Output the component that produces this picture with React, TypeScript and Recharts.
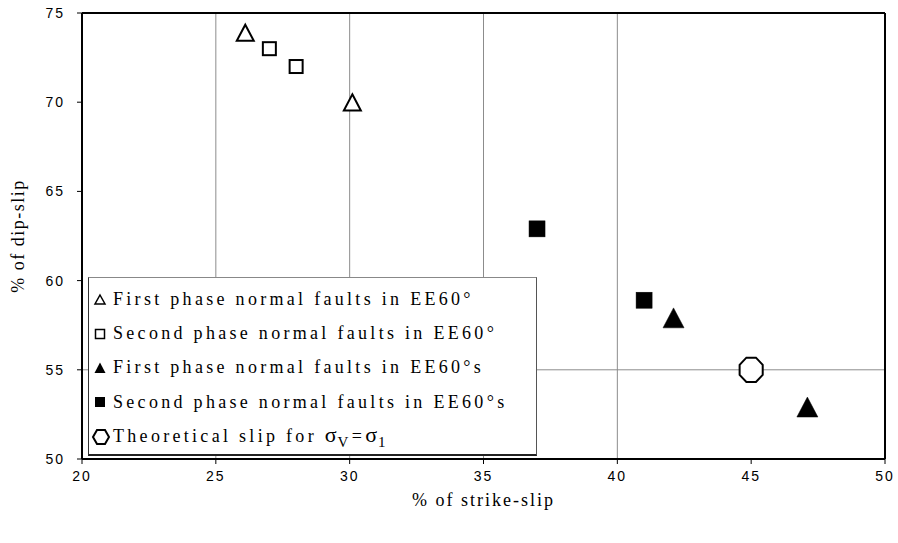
import {
  Legend,
  ReferenceLine,
  Scatter,
  ScatterChart,
  XAxis,
  YAxis,
} from 'recharts'

const firstPhase = [
  { x: 26.1, y: 73.8 },
  { x: 30.1, y: 69.9 },
]
const secondPhase = [
  { x: 27.0, y: 73.0 },
  { x: 28.0, y: 72.0 },
]
const firstPhaseS = [
  { x: 42.1, y: 57.8 },
  { x: 47.1, y: 52.8 },
]
const secondPhaseS = [
  { x: 37.0, y: 62.9 },
  { x: 41.0, y: 58.9 },
]
const theoretical = [{ x: 45, y: 55 }]

const xTicks = [20, 25, 30, 35, 40, 45, 50]
const yTicks = [50, 55, 60, 65, 70, 75]
const xGrid = [25, 30, 35, 40]
const yGrid = [55]

const SERIF = '"Liberation Serif", "Times New Roman", serif'
const SANS = '"Liberation Sans", Arial, sans-serif'

type Pt = { cx?: number; cy?: number }

function triangle(size: number, filled: boolean) {
  return ({ cx = 0, cy = 0 }: Pt) => {
    const h = size * 0.95
    const d = `M${cx},${cy - h * 0.6} L${cx + size / 2},${cy + h * 0.4} L${cx - size / 2},${cy + h * 0.4} Z`
    return (
      <path
        d={d}
        fill={filled ? '#000' : '#fff'}
        stroke="#000"
        strokeWidth={filled ? 0.5 : 2}
        strokeLinejoin="miter"
      />
    )
  }
}

function square(size: number, filled: boolean) {
  return ({ cx = 0, cy = 0 }: Pt) => (
    <rect
      x={cx - size / 2}
      y={cy - size / 2}
      width={size}
      height={size}
      fill={filled ? '#000' : '#fff'}
      stroke="#000"
      strokeWidth={filled ? 0.5 : 2}
    />
  )
}

function octagon(r: number) {
  return ({ cx = 0, cy = 0 }: Pt) => {
    const pts = []
    for (let i = 0; i < 8; i++) {
      const a = (Math.PI / 8) * (2 * i + 1)
      pts.push(`${cx + r * Math.cos(a)},${cy + r * 1.05 * Math.sin(a)}`)
    }
    return <polygon points={pts.join(' ')} fill="#fff" stroke="#000" strokeWidth={2} />
  }
}

const legendRow = {
  display: 'flex',
  alignItems: 'center',
  height: 35,
  whiteSpace: 'nowrap' as const,
}
const legendText = {
  fontFamily: SERIF,
  fontSize: 18,
  letterSpacing: 3.3,
  color: '#000',
}

function LegendBox() {
  const icon = (el: React.ReactNode) => (
    <svg width={14} height={14} style={{ marginRight: 6, flexShrink: 0 }}>
      {el}
    </svg>
  )
  return (
    <div
      style={{
        width: 449,
        height: 179,
        background: '#fff',
        borderTop: '1px solid #888',
        borderRight: '1px solid #555',
        borderLeft: '1px solid #333',
        borderBottom: '2px solid #222',
        boxSizing: 'border-box',
        paddingLeft: 4,
        paddingTop: 4,
      }}
    >
      <div style={legendRow}>
        {icon(<path d="M7,2 L12,11 L2,11 Z" fill="#fff" stroke="#000" strokeWidth={1.5} />)}
        <span style={legendText}>First phase normal faults in EE60°</span>
      </div>
      <div style={{ ...legendRow, height: 33 }}>
        {icon(<rect x={2.5} y={2.5} width={9} height={9} fill="#fff" stroke="#000" strokeWidth={1.5} />)}
        <span style={legendText}>Second phase normal faults in EE60°</span>
      </div>
      <div style={legendRow}>
        {icon(<path d="M7,1.5 L12.5,12 L1.5,12 Z" fill="#000" />)}
        <span style={legendText}>First phase normal faults in EE60°s</span>
      </div>
      <div style={{ ...legendRow, height: 34 }}>
        {icon(<rect x={2} y={2} width={10} height={10} fill="#000" />)}
        <span style={legendText}>Second phase normal faults in EE60°s</span>
      </div>
      <div style={{ ...legendRow, marginLeft: -2 }}>
        <svg width={20} height={18} style={{ marginRight: 2, flexShrink: 0 }}>
          <polygon points="6,2 14,2 18,9 14,16 6,16 2,9" fill="#fff" stroke="#000" strokeWidth={2} />
        </svg>
        <span style={legendText}>
          Theoretical slip for <span style={{ fontSize: 22, letterSpacing: 1 }}>σ</span>
          <sub style={{ fontSize: 15 }}>V</sub>=<span style={{ fontSize: 22, letterSpacing: 1 }}>σ</span>
          <sub style={{ fontSize: 15 }}>1</sub>
        </span>
      </div>
    </div>
  )
}

type VB = { viewBox?: { x: number; y: number; width: number; height: number } }

function YLabel({ viewBox }: VB) {
  const cy = viewBox ? viewBox.y + viewBox.height / 2 : 0
  return (
    <text
      x={18}
      y={cy}
      transform={`rotate(-90, 18, ${cy})`}
      textAnchor="middle"
      dominantBaseline="central"
      style={{ fontFamily: SERIF, fontSize: 18, letterSpacing: 1.5, fill: '#000' }}
    >
      % of dip-slip
    </text>
  )
}

export default function App() {
  const tick = { fontFamily: SANS, fontSize: 14, fill: '#000', letterSpacing: 2 }
  return (
    <div style={{ position: 'absolute', left: 0, top: 0, width: 898, height: 543, background: '#fff' }}>
      <ScatterChart
        width={898}
        height={543}
        margin={{ top: 13, right: 13, bottom: 0, left: 0 }}
      >
        {xGrid.map((v) => (
          <ReferenceLine key={`gx${v}`} x={v} stroke="#8c8c8c" strokeWidth={1} />
        ))}
        {yGrid.map((v) => (
          <ReferenceLine key={`gy${v}`} y={v} stroke="#8c8c8c" strokeWidth={1} />
        ))}
        <XAxis
          type="number"
          dataKey="x"
          domain={[20, 50]}
          ticks={xTicks}
          height={84}
          stroke="#000"
          tick={tick}
          tickSize={5}
          tickMargin={7}
          axisLine={false}
          label={{
            value: '% of strike-slip',
            position: 'insideBottom',
            offset: 37,
            style: { fontFamily: SERIF, fontSize: 18, letterSpacing: 2, fill: '#000' },
          }}
        />
        <YAxis
          type="number"
          dataKey="y"
          domain={[50, 75]}
          ticks={yTicks}
          width={82}
          stroke="#000"
          tick={tick}
          tickSize={5}
          tickMargin={12}
          axisLine={false}
          label={<YLabel />}
        />
        <ReferenceLine x={20} stroke="#000" strokeWidth={2} />
        <ReferenceLine x={50} stroke="#000" strokeWidth={2} />
        <ReferenceLine y={75} stroke="#000" strokeWidth={2} />
        <ReferenceLine y={50} stroke="#000" strokeWidth={2} />
        <Legend
          layout="horizontal"
          align="center"
          verticalAlign="middle"
          wrapperStyle={{ position: 'absolute', left: 88, top: 277, width: 449, height: 179 }}
          content={() => <LegendBox />}
        />
        <Scatter name="First phase normal faults in EE60°" data={firstPhase} shape={triangle(17, false)} isAnimationActive={false} />
        <Scatter name="Second phase normal faults in EE60°" data={secondPhase} shape={square(13, false)} isAnimationActive={false} />
        <Scatter name="First phase normal faults in EE60°s" data={firstPhaseS} shape={triangle(21, true)} isAnimationActive={false} />
        <Scatter name="Second phase normal faults in EE60°s" data={secondPhaseS} shape={square(16, true)} isAnimationActive={false} />
        <Scatter name="Theoretical slip for σV=σ1" data={theoretical} shape={octagon(12.5)} isAnimationActive={false} />
      </ScatterChart>
    </div>
  )
}
